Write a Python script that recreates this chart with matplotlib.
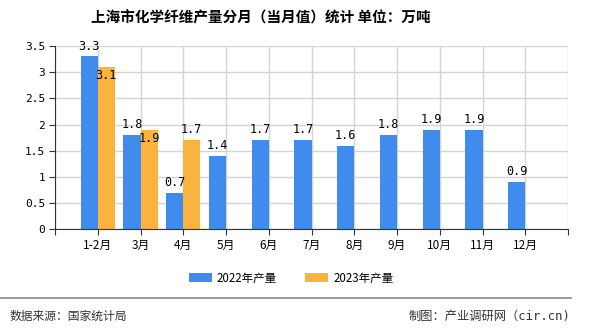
import matplotlib
matplotlib.use('Agg')
import matplotlib.pyplot as plt
import numpy as np

plt.rcParams['font.family'] = ['Noto Sans CJK SC', 'DejaVu Sans']

months = ["1-2月", "3月", "4月", "5月", "6月", "7月", "8月", "9月", "10月", "11月", "12月"]
prod_2022 = [3.3, 1.8, 0.7, 1.4, 1.7, 1.7, 1.6, 1.8, 1.9, 1.9, 0.9]
prod_2023 = [3.1, 1.9, 1.7]
yticks = [0, 0.5, 1, 1.5, 2, 2.5, 3, 3.5]
ytick_labels = ["0", "0.5", "1", "1.5", "2", "2.5", "3", "3.5"]

blue = '#418bec'
orange = '#fbb33f'
num_font = ['DejaVu Sans Mono', 'Noto Sans CJK SC']

fig = plt.figure(figsize=(5.9, 3.3), dpi=100)
ax = fig.add_axes([55/590, 1-229.3/330, (568-55)/590, (229.3-46)/330])

x = np.arange(1, len(months) + 1)
x23 = x[:len(prod_2023)]
w = 0.4
ax.bar(x - w/2, prod_2022, width=w, color=blue, zorder=3, label='2022年产量')
ax.bar(x23 + w/2, prod_2023, width=w, color=orange, zorder=3, label='2023年产量')

# value labels (offsets in points)
for xi, v in zip(x, prod_2022):
    ax.annotate(f"{v}", (xi - w/2, v), xytext=(0, 7.5), textcoords='offset points',
                ha='center', va='center', fontsize=8.5, family=num_font, zorder=4)
offs_23 = [-6, -6, 8]
for xi, v, o in zip(x23, prod_2023, offs_23):
    ax.annotate(f"{v}", (xi + w/2, v), xytext=(0, o), textcoords='offset points',
                ha='center', va='center', fontsize=8.5, family=num_font, zorder=4)

ax.set_xlim(0, 12)
ax.set_ylim(0, 3.5)
ax.set_yticks(yticks)
ax.set_yticklabels(ytick_labels, family=num_font, fontsize=8)
ax.set_xticks(np.arange(0, 13))
ax.set_xticklabels([""] + months + [""], fontsize=8.5)
ax.tick_params(axis='both', length=4, color='#333333', pad=3)
ax.grid(True, color='#d4d4d4', linewidth=1, zorder=0)
for s in ['top', 'right']:
    ax.spines[s].set_visible(False)
for s in ['left', 'bottom']:
    ax.spines[s].set_color('#333333')
    ax.spines[s].set_zorder(5)

fig.text(261/590, 1-17/330, "上海市化学纤维产量分月（当月值）统计 单位：万吨",
         ha='center', va='center', fontsize=10.5, fontweight='bold')

leg = fig.legend(loc='center', bbox_to_anchor=(291/590, 1-278/330), ncol=2, frameon=False,
                 fontsize=8.3, handlelength=2.0, handleheight=0.7, columnspacing=2.5,
                 handletextpad=0.4)

fig.add_artist(plt.Line2D([0, 571/590], [1-298/330, 1-298/330], color='#888888', linewidth=1.2))
fig.text(10/590, 1-316/330, "数据来源：国家统计局", ha='left', va='center', fontsize=8.5, color='#333333')
fig.text(570/590, 1-316/330, "制图：产业调研网（cir.cn)", ha='right', va='center', fontsize=8.8,
         color='#333333', family=num_font)

fig.savefig('out.png', dpi=100)
